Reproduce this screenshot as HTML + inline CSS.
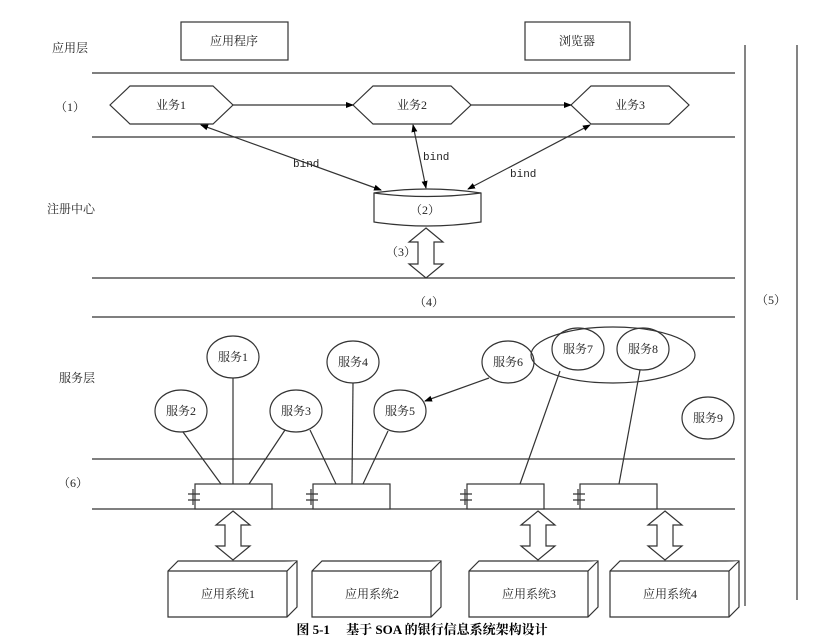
<!DOCTYPE html>
<html><head><meta charset="utf-8"><style>
html,body{margin:0;padding:0;background:#fff}
svg{display:block}
text{font-family:"Liberation Serif","Noto Serif CJK SC","Noto Sans CJK SC",serif;font-size:12px;fill:#222}
.m{font-family:"Liberation Mono","Noto Sans CJK SC",monospace;font-size:11px}
</style></head><body>
<svg width="829" height="641" viewBox="0 0 829 641" xmlns="http://www.w3.org/2000/svg">
<defs>
<marker id="a" markerWidth="8" markerHeight="8" refX="7" refY="4" orient="auto-start-reverse" markerUnits="userSpaceOnUse"><path d="M0,1 L8,4 L0,7 z" fill="#000"/></marker>
</defs>
<g stroke="#333" stroke-width="1.2" fill="none">
<line x1="92" y1="73" x2="735" y2="73"/>
<line x1="92" y1="137" x2="735" y2="137"/>
<line x1="92" y1="278" x2="735" y2="278"/>
<line x1="92" y1="317" x2="735" y2="317"/>
<line x1="92" y1="459" x2="735" y2="459"/>
<line x1="92" y1="509" x2="735" y2="509"/>
<line x1="745" y1="45" x2="745" y2="606"/>
<line x1="797" y1="45" x2="797" y2="600"/>
<rect x="181" y="22" width="107" height="38"/>
<rect x="525" y="22" width="105" height="38"/>
<polygon points="110,105 130,86 213,86 233,105 213,124 130,124"/>
<polygon points="353,105 373,86 451,86 471,105 451,124 373,124"/>
<polygon points="571,105 591,86 669,86 689,105 669,124 591,124"/>
<line x1="233" y1="105" x2="353" y2="105" marker-end="url(#a)"/>
<line x1="471" y1="105" x2="571" y2="105" marker-end="url(#a)"/>
<line x1="201" y1="125" x2="381" y2="190" marker-start="url(#a)" marker-end="url(#a)"/>
<line x1="413" y1="125" x2="426" y2="188" marker-start="url(#a)" marker-end="url(#a)"/>
<line x1="590" y1="125" x2="468" y2="189" marker-start="url(#a)" marker-end="url(#a)"/>
<path d="M374,193 Q427,185 481,193 L481,222 Q427,230 374,222 Z" fill="#fff"/>
<path d="M374,193 Q427,200 481,193"/>
<polygon points="426,228 443,242 434,242 434,264 443,264 426,278 409,264 418,264 418,242 409,242" fill="#fff"/>
<ellipse cx="233" cy="357" rx="26" ry="21"/>
<ellipse cx="181" cy="411" rx="26" ry="21"/>
<ellipse cx="296" cy="411" rx="26" ry="21"/>
<ellipse cx="353" cy="362" rx="26" ry="21"/>
<ellipse cx="400" cy="411" rx="26" ry="21"/>
<ellipse cx="508" cy="362" rx="26" ry="21"/>
<ellipse cx="578" cy="349" rx="26" ry="21"/>
<ellipse cx="643" cy="349" rx="26" ry="21"/>
<ellipse cx="613" cy="355" rx="82" ry="28"/>
<ellipse cx="708" cy="418" rx="26" ry="21"/>
<line x1="489" y1="378" x2="425" y2="401" marker-end="url(#a)"/>
<line x1="183" y1="432" x2="221" y2="484"/>
<line x1="233" y1="378" x2="233" y2="484"/>
<line x1="285" y1="430" x2="249" y2="484"/>
<line x1="310" y1="430" x2="336" y2="484"/>
<line x1="353" y1="383" x2="352" y2="484"/>
<line x1="388" y1="431" x2="363" y2="484"/>
<line x1="560" y1="371" x2="520" y2="484"/>
<line x1="640" y1="370" x2="619" y2="484"/>
<rect x="195" y="484" width="77" height="25" fill="#fff"/>
<rect x="313" y="484" width="77" height="25" fill="#fff"/>
<rect x="467" y="484" width="77" height="25" fill="#fff"/>
<rect x="580" y="484" width="77" height="25" fill="#fff"/>
<path d="M188,494h12M188,500h12M193,489v16"/>
<path d="M306,494h12M306,500h12M311,489v16"/>
<path d="M460,494h12M460,500h12M465,489v16"/>
<path d="M573,494h12M573,500h12M578,489v16"/>
<polygon points="233,511 250,525 241,525 241,546 250,546 233,560 216,546 225,546 225,525 216,525" fill="#fff"/>
<polygon points="538,511 555,525 546,525 546,546 555,546 538,560 521,546 530,546 530,525 521,525" fill="#fff"/>
<polygon points="665,511 682,525 673,525 673,546 682,546 665,560 648,546 657,546 657,525 648,525" fill="#fff"/>
<g fill="#fff">
<path d="M168,571 L178,561 L297,561 L297,607 L287,617 L168,617 Z"/><path d="M168,571 L287,571 L297,561 M287,571 L287,617"/>
<path d="M312,571 L322,561 L441,561 L441,607 L431,617 L312,617 Z"/><path d="M312,571 L431,571 L441,561 M431,571 L431,617"/>
<path d="M469,571 L479,561 L598,561 L598,607 L588,617 L469,617 Z"/><path d="M469,571 L588,571 L598,561 M588,571 L588,617"/>
<path d="M610,571 L620,561 L739,561 L739,607 L729,617 L610,617 Z"/><path d="M610,571 L729,571 L739,561 M729,571 L729,617"/>
</g>
</g>
<text x="52" y="52">应用层</text>
<text x="55" y="111">（1）</text>
<text x="47" y="213">注册中心</text>
<text x="59" y="382">服务层</text>
<text x="58" y="487">（6）</text>
<text x="756" y="304">（5）</text>
<text x="414" y="306">（4）</text>
<text x="386" y="256">（3）</text>
<text x="410" y="214">（2）</text>
<text x="234" y="45" text-anchor="middle">应用程序</text>
<text x="577" y="45" text-anchor="middle">浏览器</text>
<text x="171" y="109" text-anchor="middle">业务1</text>
<text x="412" y="109" text-anchor="middle">业务2</text>
<text x="630" y="109" text-anchor="middle">业务3</text>
<text class="m" x="293" y="167">bind</text>
<text class="m" x="423" y="160">bind</text>
<text class="m" x="510" y="177">bind</text>
<text x="233" y="361" text-anchor="middle">服务1</text>
<text x="181" y="415" text-anchor="middle">服务2</text>
<text x="296" y="415" text-anchor="middle">服务3</text>
<text x="353" y="366" text-anchor="middle">服务4</text>
<text x="400" y="415" text-anchor="middle">服务5</text>
<text x="508" y="366" text-anchor="middle">服务6</text>
<text x="578" y="353" text-anchor="middle">服务7</text>
<text x="643" y="353" text-anchor="middle">服务8</text>
<text x="708" y="422" text-anchor="middle">服务9</text>
<text x="228" y="598" text-anchor="middle">应用系统1</text>
<text x="372" y="598" text-anchor="middle">应用系统2</text>
<text x="529" y="598" text-anchor="middle">应用系统3</text>
<text x="670" y="598" text-anchor="middle">应用系统4</text>
<text x="422" y="634" text-anchor="middle" style="font-weight:bold;font-size:13px;fill:#000">图 5-1　 基于 SOA 的银行信息系统架构设计</text>
</svg>
</body></html>
